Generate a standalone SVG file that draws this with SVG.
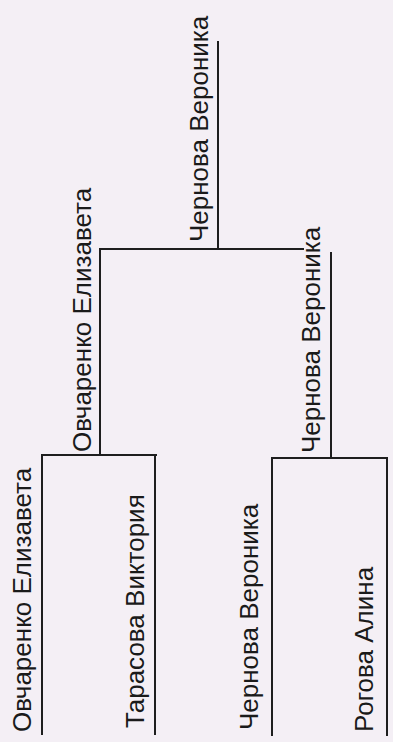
<svg xmlns="http://www.w3.org/2000/svg" width="393" height="742" viewBox="0 0 393 742">
<style>
.bg{fill:#f4eff5}
.ln{stroke:#1e1e1e;stroke-width:2;fill:none;stroke-linecap:square}
.t{font-family:"Liberation Sans",Arial,sans-serif;font-size:26px;fill:#1a1a1a}
</style>
<rect class="bg" x="0" y="0" width="393" height="742"/>
<g id="connectors">
<path class="ln" d="M218,42 V249"/>
<path class="ln" d="M101,249 H303"/>
<path class="ln" d="M100,249 V455"/>
<path class="ln" d="M331,253 V458"/>
<path class="ln" d="M42,455 H156"/>
<path class="ln" d="M42,455 V734"/>
<path class="ln" d="M155,455 V734"/>
<path class="ln" d="M272,458 H387"/>
<path class="ln" d="M272,458 V735"/>
<path class="ln" d="M387,458 V735"/>
</g>
<g id="final"><text class="t" transform="translate(208,242) rotate(-90)">Чернова Вероника</text></g>
<g id="semi-left"><text class="t" transform="translate(91,452) rotate(-90)">Овчаренко Елизавета</text></g>
<g id="semi-right"><text class="t" transform="translate(320,453) rotate(-90)">Чернова Вероника</text></g>
<g id="p1"><text class="t" transform="translate(31,732) rotate(-90)">Овчаренко Елизавета</text></g>
<g id="p2"><text class="t" transform="translate(144,728) rotate(-90)">Тарасова Виктория</text></g>
<g id="p3"><text class="t" transform="translate(258,730) rotate(-90)">Чернова Вероника</text></g>
<g id="p4"><text class="t" transform="translate(373,732) rotate(-90)">Рогова Алина</text></g>
</svg>
